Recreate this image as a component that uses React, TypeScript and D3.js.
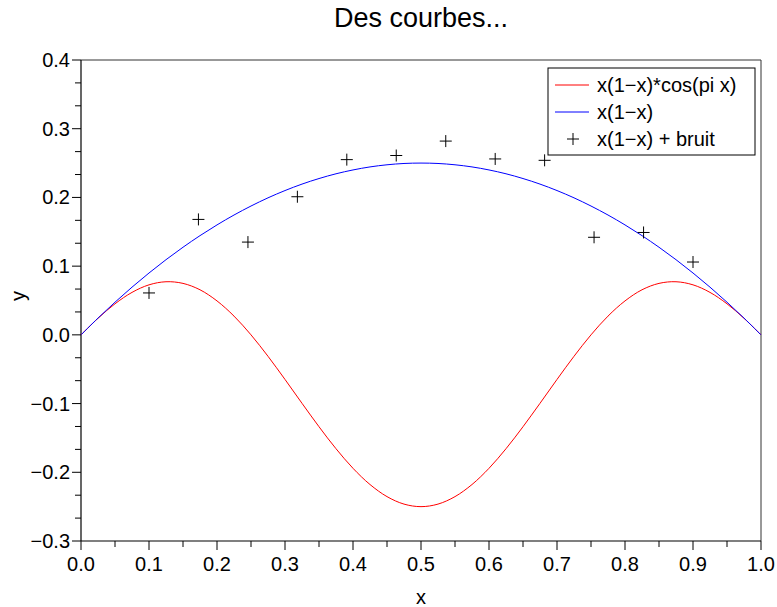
import React from "react";
import * as d3 from "d3";

const xGrid = [
  0, 0.025, 0.05, 0.075, 0.1, 0.125, 0.15, 0.175, 0.2, 0.225, 0.25, 0.275, 0.3, 0.325, 0.35, 0.375, 0.4, 0.425, 0.45, 0.475, 0.5,
  0.525, 0.55, 0.575, 0.6, 0.625, 0.65, 0.675, 0.7, 0.725, 0.75, 0.775, 0.8, 0.825, 0.85, 0.875, 0.9, 0.925, 0.95, 0.975, 1,
];
const redValues = [
  0, 0.0241, 0.0452, 0.0618, 0.0728, 0.0773, 0.0749, 0.0656, 0.0494, 0.0273, 0, -0.0312, -0.0649, -0.0996, -0.1337, -0.1657,
  -0.1942, -0.2178, -0.2354, -0.2463, -0.25, -0.2463, -0.2354, -0.2178, -0.1942, -0.1657, -0.1337, -0.0996, -0.0649, -0.0312, 0,
  0.0273, 0.0494, 0.0656, 0.0749, 0.0773, 0.0728, 0.0618, 0.0452, 0.0241, 0,
];
const blueValues = [
  0, 0.0244, 0.0475, 0.0694, 0.09, 0.1094, 0.1275, 0.1444, 0.16, 0.1744, 0.1875, 0.1994, 0.21, 0.2194, 0.2275, 0.2344, 0.24,
  0.2444, 0.2475, 0.2494, 0.25, 0.2494, 0.2475, 0.2444, 0.24, 0.2344, 0.2275, 0.2194, 0.21, 0.1994, 0.1875, 0.1744, 0.16, 0.1444,
  0.1275, 0.1094, 0.09, 0.0694, 0.0475, 0.0244, 0,
];
const noiseX = [0.1, 0.1727, 0.2455, 0.3182, 0.3909, 0.4636, 0.5364, 0.6091, 0.6818, 0.7545, 0.8273, 0.9];
const noiseY = [0.061, 0.168, 0.135, 0.201, 0.255, 0.261, 0.282, 0.256, 0.254, 0.142, 0.149, 0.106];
const xTicks = [0, 0.1, 0.2, 0.3, 0.4, 0.5, 0.6, 0.7, 0.8, 0.9, 1.0];
const xMinor = [0.05, 0.15, 0.25, 0.35, 0.45, 0.55, 0.65, 0.75, 0.85, 0.95];
const yTicks = [-0.3, -0.2, -0.1, 0, 0.1, 0.2, 0.3, 0.4];
const legendLabels = ["x(1\u2212x)*cos(pi x)", "x(1\u2212x)", "x(1\u2212x) + bruit"];
const title = "Des courbes...";

const W = 777, H = 607;
const L = 81, R = 761, T = 60, B = 541;
const FONT = "'Liberation Sans', Arial, Helvetica, sans-serif";

function fmt(v: number) {
  const s = v.toFixed(1);
  return v < 0 ? "\u2212" + s.slice(1) : s;
}

export default function App() {
  const x = d3.scaleLinear().domain([0, 1]).range([L, R]);
  const y = d3.scaleLinear().domain([-0.3, 0.4]).range([B, T]);
  const line = d3
    .line<number>()
    .x((_, i) => x(xGrid[i]))
    .y((d) => y(d))
    .curve(d3.curveCatmullRom);
  const yMin: number[] = [];
  for (let i = 0; i < yTicks.length - 1; i++) {
    const a = yTicks[i];
    yMin.push(a + 0.1 / 3, a + 0.2 / 3);
  }
  const lx = 548, ly = 68, lw = 207, lh = 87;
  return (
    <svg width={W} height={H} style={{ position: "absolute", left: 0, top: 0, background: "#fff" }} fontFamily={FONT}>
      <rect x={0} y={0} width={W} height={H} fill="#fff" />
      <text x={421} y={27} textAnchor="middle" fontSize={27} fill="#000">{title}</text>
      <line x1={L} y1={T} x2={R} y2={T} stroke="#333" strokeWidth={1} />
      <line x1={R} y1={T} x2={R} y2={B} stroke="#333" strokeWidth={1} />
      <line x1={L} y1={T} x2={L} y2={B} stroke="#000" strokeWidth={1.2} />
      <line x1={L} y1={B} x2={R} y2={B} stroke="#000" strokeWidth={1.2} />
      {yTicks.map((t) => (
        <g key={"yt" + t}>
          <line x1={L - 9} x2={L} y1={y(t)} y2={y(t)} stroke="#000" />
          <text x={L - 11} y={y(t)} dy="0.35em" textAnchor="end" fontSize={20}>{fmt(t)}</text>
        </g>
      ))}
      {yMin.map((t, i) => (
        <line key={"ym" + i} x1={L - 6} x2={L} y1={y(t)} y2={y(t)} stroke="#000" />
      ))}
      {xTicks.map((t) => (
        <g key={"xt" + t}>
          <line x1={x(t)} x2={x(t)} y1={B} y2={B + 9} stroke="#000" />
          <text x={x(t)} y={571} textAnchor="middle" fontSize={20}>{t.toFixed(1)}</text>
        </g>
      ))}
      {xMinor.map((t) => (
        <line key={"xm" + t} x1={x(t)} x2={x(t)} y1={B} y2={B + 6} stroke="#000" />
      ))}
      <text x={421} y={604} textAnchor="middle" fontSize={20}>x</text>
      <text transform={`translate(25,296) rotate(-90)`} textAnchor="middle" fontSize={20}>y</text>
      <path d={line(redValues) || ""} fill="none" stroke="#ff0000" strokeWidth={1} />
      <path d={line(blueValues) || ""} fill="none" stroke="#0000ff" strokeWidth={1} />
      {noiseX.map((px, i) => (
        <g key={"p" + i} stroke="#000" strokeWidth={1}>
          <line x1={x(px) - 6} x2={x(px) + 6} y1={y(noiseY[i])} y2={y(noiseY[i])} />
          <line x1={x(px)} x2={x(px)} y1={y(noiseY[i]) - 6} y2={y(noiseY[i]) + 6} />
        </g>
      ))}
      <rect x={lx} y={ly} width={lw} height={lh} fill="#fff" stroke="#000" strokeWidth={1} />
      <line x1={555} x2={589} y1={85} y2={85} stroke="#ff0000" />
      <line x1={555} x2={589} y1={112} y2={112} stroke="#0000ff" />
      <line x1={567} x2={579} y1={139} y2={139} stroke="#000" />
      <line x1={573} x2={573} y1={133} y2={145} stroke="#000" />
      {legendLabels.map((s, i) => (
        <text key={s} x={597} y={85 + i * 27} dy="0.35em" fontSize={20}>{s}</text>
      ))}
    </svg>
  );
}
